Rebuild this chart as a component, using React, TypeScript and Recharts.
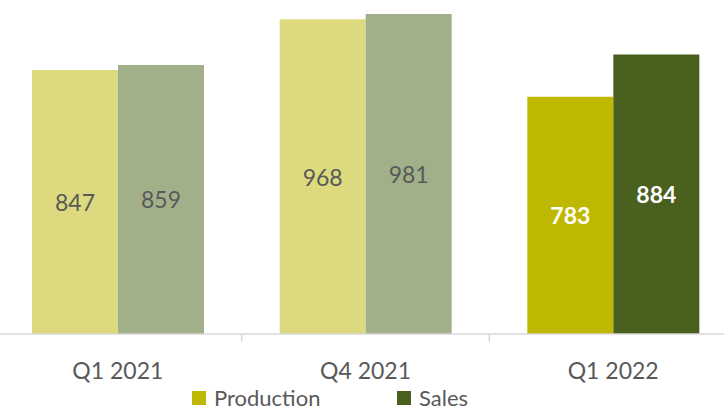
import { Bar, BarChart, Cell, LabelList, Legend, XAxis, YAxis } from "recharts";

const categories = ["Q1 2021", "Q4 2021", "Q1 2022"];
const production = [847, 968, 783];
const sales = [859, 981, 884];
const highlighted = [false, false, true];

const colors = {
  production: "#bfb800",
  productionMuted: "#dcd97f",
  sales: "#4a601e",
  salesMuted: "#a2b08a",
  axis: "#d9d9d9",
  text: "#595959",
};

const data = categories.map((label, i) => ({
  label,
  production: production[i],
  sales: sales[i],
  highlight: highlighted[i],
}));

const font = "Lato, 'Noto Sans', sans-serif";

function CategoryTick(props: any) {
  const { x, y, payload } = props;
  const edge = x + (payload.offset ?? 0);
  return (
    <g>
      <line x1={edge} x2={edge} y1={y} y2={y + 8} stroke={colors.axis} strokeWidth={1.5} />
      <text x={x} y={y + 45} textAnchor="middle" fontFamily={font} fontSize={23} fill={colors.text}>
        {payload.value}
      </text>
    </g>
  );
}

function valueLabel(props: any) {
  const { x, y, width, height, value, index } = props;
  const strong = highlighted[index];
  return (
    <text
      x={x + width / 2}
      y={y + height / 2}
      textAnchor="middle"
      dominantBaseline="central"
      fontFamily={font}
      fontSize={23}
      fontWeight={strong ? 700 : 400}
      fill={strong ? "#ffffff" : colors.text}
    >
      {value}
    </text>
  );
}

function LegendContent() {
  const items = [
    { name: "Production", color: colors.production, width: 205 },
    { name: "Sales", color: colors.sales, width: 90 },
  ];
  return (
    <div style={{ display: "flex", marginLeft: 198, paddingTop: 6, fontFamily: font, fontSize: 22, color: colors.text }}>
      {items.map((item) => (
        <div key={item.name} style={{ width: item.width, display: "flex", alignItems: "center" }}>
          <span style={{ width: 14, height: 14, background: item.color, marginRight: 8 }} />
          <span>{item.name}</span>
        </div>
      ))}
    </div>
  );
}

export default function App() {
  return (
    <div style={{ position: "absolute", left: -6, top: 0 }}>
      <BarChart width={743} height={410} data={data} margin={{ top: 6, right: 0, left: 0, bottom: 0 }} barCategoryGap={38} barGap={0}>
        <XAxis
          dataKey="label"
          height={44}
          tickSize={0}
          tickMargin={0}
          tick={<CategoryTick />}
          axisLine={{ stroke: colors.axis, strokeWidth: 1.5 }}
          interval={0}
        />
        <YAxis hide domain={[215, 1000]} allowDataOverflow />
        <Legend verticalAlign="bottom" height={32} content={<LegendContent />} />
        <Bar dataKey="production" name="Production" fill={colors.production} isAnimationActive={false}>
          {data.map((d) => (
            <Cell key={d.label} fill={d.highlight ? colors.production : colors.productionMuted} />
          ))}
          <LabelList dataKey="production" content={valueLabel} />
        </Bar>
        <Bar dataKey="sales" name="Sales" fill={colors.sales} isAnimationActive={false}>
          {data.map((d) => (
            <Cell key={d.label} fill={d.highlight ? colors.sales : colors.salesMuted} />
          ))}
          <LabelList dataKey="sales" content={valueLabel} />
        </Bar>
      </BarChart>
    </div>
  );
}
